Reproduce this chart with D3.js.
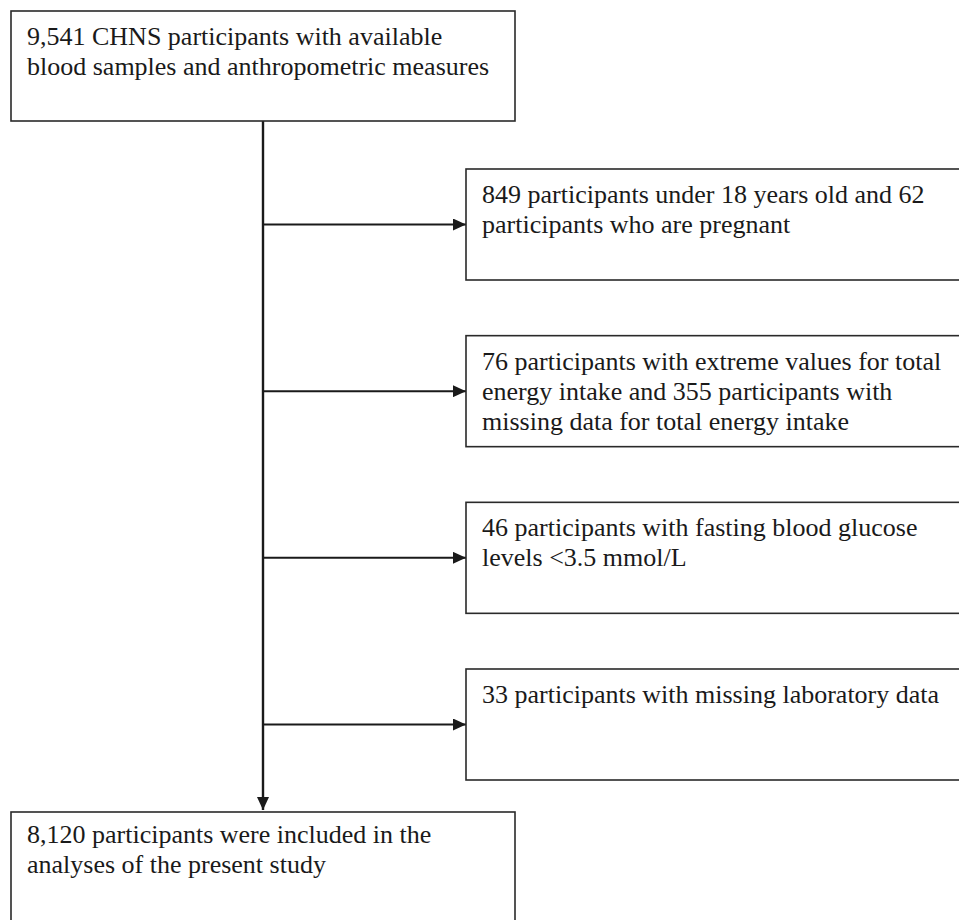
<!DOCTYPE html>
<html>
<head>
<meta charset="utf-8">
<script src="https://cdn.jsdelivr.net/npm/d3@7"></script>
<style>
  body { margin:0; background:#fff; }
  svg text { font-family: "Liberation Serif", "Times New Roman", serif; font-size:26px; fill:#1a1a1a; }
</style>
</head>
<body>
<script>
// flow chart content
var startLines = ["9,541 CHNS participants with available", "blood samples and anthropometric measures"];
var endLines = ["8,120 participants were included in the", "analyses of the present study"];
var excludedCounts = [911, 431, 46, 33];
var excludedLines = [
  ["849 participants under 18 years old and 62", "participants who are pregnant"],
  ["76 participants with extreme values for total", "energy intake and 355 participants with", "missing data for total energy intake"],
  ["46 participants with fasting blood glucose", "levels <3.5 mmol/L"],
  ["33 participants with missing laboratory data"]
];

var svgW = 959, svgH = 920, lineH = 30, pad = 16;
var box = {x:11, w:504, h:110}, side = {x:466, w:520, h:111};
var stemX = 263;

var yStep = d3.scaleLinear().domain([0, excludedCounts.length - 1]).range([169, 669]);

var svg = d3.select("body").append("svg").attr("width", svgW).attr("height", svgH);

svg.append("defs").append("marker").attr("id", "arr")
    .attr("viewBox", "0 0 10 10").attr("refX", 10).attr("refY", 5)
    .attr("markerWidth", 13).attr("markerHeight", 12).attr("markerUnits", "userSpaceOnUse")
    .attr("preserveAspectRatio", "none")
    .attr("orient", "auto")
    .append("path").attr("d", "M0,0 L10,5 L0,10 Z").attr("fill", "#1a1a1a");

function drawBox(x, y, w, h, lines, base){
    var g = svg.append("g");
    g.append("rect").attr("x", x).attr("y", y).attr("width", w).attr("height", h)
        .attr("fill", "#fff").attr("stroke", "#2a2a2a").attr("stroke-width", 1.6);
    g.selectAll("text").data(lines).enter().append("text")
        .attr("x", x + pad).attr("y", function(d, i){ return y + base + i*lineH; })
        .text(function(d){ return d; });
}

// main stem
var endY = 812;
svg.append("line").attr("x1", stemX).attr("y1", 11 + box.h).attr("x2", stemX).attr("y2", endY - 2)
    .attr("stroke", "#1a1a1a").attr("stroke-width", 2.4).attr("marker-end", "url(#arr)");

// side arrows
svg.selectAll(".side").data(excludedCounts).enter().append("line").attr("class", "side")
    .attr("x1", stemX).attr("x2", side.x)
    .attr("y1", function(d, i){ return yStep(i) + side.h/2; })
    .attr("y2", function(d, i){ return yStep(i) + side.h/2; })
    .attr("stroke", "#1a1a1a").attr("stroke-width", 2).attr("marker-end", "url(#arr)");

drawBox(box.x, 11, box.w, box.h, startLines, 34);
excludedLines.forEach(function(l, i){ drawBox(side.x, yStep(i), side.w, side.h, l, 34); });
drawBox(box.x, endY, box.w, 130, endLines, 31);
</script>
</body>
</html>
